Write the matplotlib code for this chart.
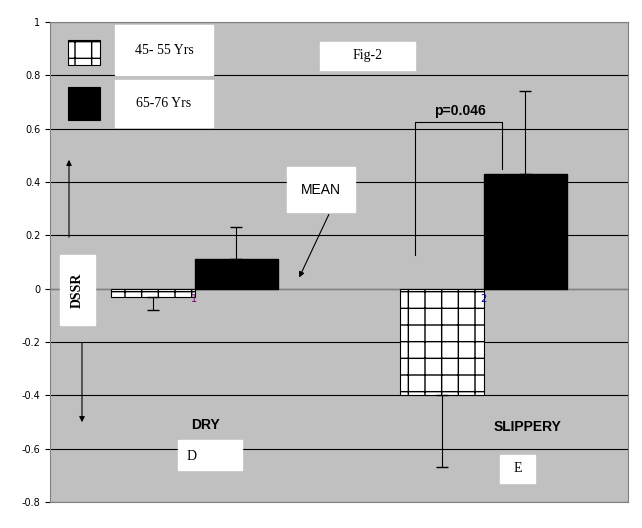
import matplotlib
matplotlib.use("Agg")
import matplotlib.pyplot as plt
import numpy as np

positions = [1, 2]
young_vals = [-0.03, -0.40]
young_err = [0.05, 0.27]
old_vals = [0.11, 0.43]
old_err = [0.12, 0.31]
yticks = [-0.8, -0.6, -0.4, -0.2, 0, 0.2, 0.4, 0.6, 0.8, 1]
ytick_labels = ["-0.8", "-0.6", "-0.4", "-0.2", "0", "0.2", "0.4", "0.6", "0.8", "1"]

W, H = 642, 528
fig = plt.figure(figsize=(W / 100, H / 100), dpi=100)
ax = fig.add_axes([50 / W, 26 / H, 578 / W, 480 / H])
ax.set_facecolor("#c0c0c0")

def px(x, y):
    return (x / W, 1 - y / H)

bw = 0.29
pos = np.array(positions)
ax.bar(pos - bw / 2, young_vals, bw, color="white", edgecolor="black",
       hatch="+", linewidth=0.8, zorder=3,
       yerr=[young_err, [0, 0]], capsize=4, error_kw=dict(lw=0.8, zorder=4))
ax.bar(pos + bw / 2, old_vals, bw, color="black", edgecolor="black", zorder=3,
       yerr=[[0, 0], old_err], capsize=4, error_kw=dict(lw=0.8, ecolor="black", zorder=4))

ax.set_xlim(0.5, 2.5)
ax.set_ylim(-0.8, 1)
ax.set_yticks(yticks)
ax.set_yticklabels(ytick_labels, fontsize=7)
ax.set_xticks([])
ax.yaxis.grid(True, color="black", linewidth=0.8, zorder=1)
ax.axhline(0, color="#808080", linewidth=1, zorder=2)
for s in ax.spines.values():
    s.set_color("#808080")

ax.text(1.0, -0.04, "1", color="#800080", fontsize=7, ha="center", va="center", zorder=5)
ax.text(2.0, -0.04, "2", color="#0000c0", fontsize=7, ha="center", va="center", zorder=5)

# p-value bracket
ax.plot([1.763, 1.763, 2.064, 2.064], [0.126, 0.625, 0.625, 0.45], color="black", lw=0.8, zorder=5)
ax.text(1.92, 0.665, "p=0.046", fontsize=10, fontweight="bold", ha="center", va="center",
        family="Liberation Sans", zorder=6)

def box(x0, y0, x1, y1, text="", **kw):
    bx, by = px(x0, y1)
    r = plt.Rectangle((bx, by), (x1 - x0) / W, (y1 - y0) / H, transform=fig.transFigure,
                      facecolor="white", edgecolor="white", zorder=10)
    fig.patches.append(r)
    if text:
        cx, cy = px((x0 + x1) / 2, (y0 + y1) / 2)
        fig.text(cx, cy, text, ha="center", va="center", zorder=11, **kw)

tfont = dict(family="Liberation Serif", fontsize=10)
box(115, 25, 213, 75, "45- 55 Yrs", **tfont)
box(115, 80, 213, 127, "65-76 Yrs", **tfont)
for y0, y1, hatched in [(40, 65, True), (87, 120, False)]:
    bx, by = px(68, y1)
    fig.patches.append(plt.Rectangle((bx, by), 32 / W, (y1 - y0) / H, transform=fig.transFigure,
                                     facecolor="white" if hatched else "black", edgecolor="black",
                                     hatch="+" if hatched else None, lw=0.8, zorder=11))
box(320, 42, 415, 70, "Fig-2", **tfont)
box(287, 167, 355, 212, "MEAN", family="Liberation Sans", fontsize=10)
box(60, 255, 95, 325)
fig.text(*px(77, 290), "DSSR", rotation=90, ha="center", va="center", family="Liberation Serif",
         fontsize=10, fontweight="bold", zorder=11)
box(178, 440, 242, 470)
fig.text(*px(192, 456), "D", ha="center", va="center", zorder=11, **tfont)
box(500, 455, 535, 483, "E", **tfont)
fig.text(*px(205, 425), "DRY", ha="center", va="center", family="Liberation Sans",
         fontsize=10, fontweight="bold")
fig.text(*px(528, 427), "SLIPPERY", ha="center", va="center", family="Liberation Sans",
         fontsize=10, fontweight="bold")

arr = dict(arrowstyle="-|>", color="black", lw=0.8, mutation_scale=8)
fig.patches.append(matplotlib.patches.FancyArrowPatch(px(330, 212), px(298, 280),
                   transform=fig.transFigure, zorder=11, **arr))
fig.patches.append(matplotlib.patches.FancyArrowPatch(px(69, 240), px(69, 157),
                   transform=fig.transFigure, zorder=11, **arr))
fig.patches.append(matplotlib.patches.FancyArrowPatch(px(82, 340), px(82, 425),
                   transform=fig.transFigure, zorder=11, **arr))

fig.savefig("out.png", dpi=100, facecolor="white")
